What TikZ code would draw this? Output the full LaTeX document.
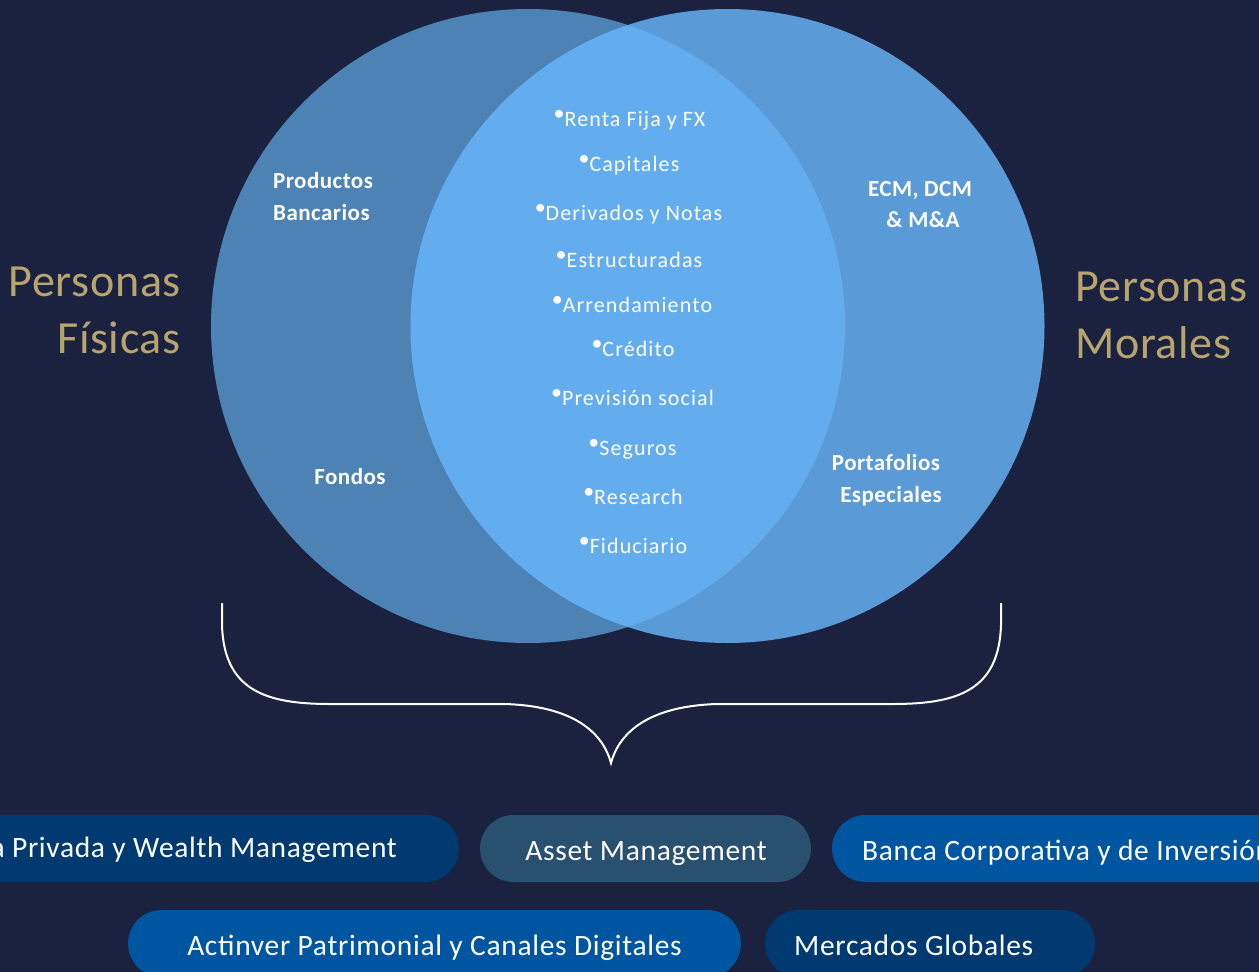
\documentclass[tikz,border=0pt]{standalone}
\usepackage{fontspec}
\usepackage{graphicx}
\setmainfont{Carlito}
\newfontfamily\fpersona[LetterSpace=1.5]{Carlito}
\newfontfamily\flbl[LetterSpace=2]{Carlito}
\newfontfamily\fitem[LetterSpace=5]{Carlito}
\newfontfamily\fpill[LetterSpace=2.3]{Carlito}
\definecolor{bg}{HTML}{1A2240}
\definecolor{cleft}{HTML}{4C82B4}
\definecolor{cright}{HTML}{5A9AD6}
\definecolor{cmid}{HTML}{63ADEE}
\definecolor{gold}{HTML}{B8A46E}
\definecolor{pdark}{HTML}{003A70}
\definecolor{pgrey}{HTML}{2A5070}
\definecolor{pblue}{HTML}{0055A0}
\newcommand{\bul}{\raisebox{0.25em}{\scalebox{1.0}{•}}}
\tikzset{
  persona/.style={text=gold, font=\fpersona\fontsize{46}{57}\selectfont, inner sep=0pt},
  lbl/.style={text=white, font=\flbl\bfseries\fontsize{23}{32}\selectfont, inner sep=0pt},
  item/.style={text=white, font=\fitem\fontsize{22}{25}\selectfont, inner sep=0pt, anchor=base},
  pilltext/.style={text=white, font=\fpill\fontsize{29.5}{32}\selectfont, inner sep=0pt},
  brace/.style={draw=white, line width=2pt},
}
\begin{document}
\begin{tikzpicture}[x=1pt,y=-1pt]
\useasboundingbox (0,0) rectangle (1259,972);
\fill[bg] (0,0) rectangle (1259,972);
\clip (0,0) rectangle (1259,972);
% circles
\fill[cleft] (528,326) circle[radius=317];
\fill[cright] (727.5,326) circle[radius=317];
\begin{scope}
  \clip (528,326) circle[radius=317];
  \fill[cmid] (727.5,326) circle[radius=317];
\end{scope}
% labels
\node[persona, anchor=base east] (pf1) at (181,296) {Personas};
\node[persona, anchor=base east] (pf2) at (181,353) {Físicas};
\node[persona, anchor=base west] (pm1) at (1075,301) {Personas};
\node[persona, anchor=base west] (pm2) at (1075,358) {Morales};
\node[lbl, anchor=base west] (pb1) at (273,188) {Productos};
\node[lbl, anchor=base west] (pb2) at (273,220) {Bancarios};
\node[lbl, anchor=base] (fo) at (350,484) {Fondos};
\node[lbl, anchor=base] (ec1) at (920,196) {ECM, DCM};
\node[lbl, anchor=base] (ec2) at (923,227) {\& M\&A};
\node[lbl, anchor=base] (po1) at (886,470) {Portafolios};
\node[lbl, anchor=base] (po2) at (891,502) {Especiales};
% center list
\node[item] (i1) at (629.5,126) {\bul Renta Fija y FX};
\node[item] (i2) at (629,171) {\bul Capitales};
\node[item] (i3) at (628.5,220) {\bul Derivados y Notas};
\node[item] (i4) at (629,267) {\bul Estructuradas};
\node[item] (i5) at (632,312) {\bul Arrendamiento};
\node[item] (i6) at (633,356) {\bul Crédito};
\node[item] (i7) at (632.5,405) {\bul Previsión social};
\node[item] (i8) at (632.5,455) {\bul Seguros};
\node[item] (i9) at (633,504) {\bul Research};
\node[item] (i10) at (633,553) {\bul Fiduciario};
% brace
\coordinate (bl) at (222,603);
\coordinate (br) at (1001,603);
\coordinate (tip) at (611,763);
\draw[brace] (bl) -- (222,625) .. controls (224,690) and (265,704) .. (330,704)
  -- (505,704) .. controls (570,706) and (602,730) .. (tip)
  .. controls (620,730) and (652,706) .. (717,704)
  -- (893,704) .. controls (958,704) and (999,690) .. (1001,625) -- (br);
% pills
\fill[pdark, rounded corners=33.5] (-150,815) rectangle (459,882);
\fill[pgrey, rounded corners=33.5] (480,815) rectangle (811,882);
\fill[pblue, rounded corners=33.5] (832,815) rectangle (1400,882);
\fill[pblue, rounded corners=33.5] (128,910) rectangle (741,977);
\fill[pdark, rounded corners=33.5] (765,910) rectangle (1095,977);
\node[pilltext, anchor=base east] (t1) at (397,857) {Banca Privada y Wealth Management};
\node[pilltext, anchor=base] (t2) at (646,860) {Asset Management};
\node[pilltext, anchor=base west] (t3) at (862,860) {Banca Corporativa y de Inversión};
\node[pilltext, anchor=base] (t4) at (434.5,955) {Actinver Patrimonial y Canales Digitales};
\node[pilltext, anchor=base west] (t5) at (794,955) {Mercados Globales};
\end{tikzpicture}
\end{document}
